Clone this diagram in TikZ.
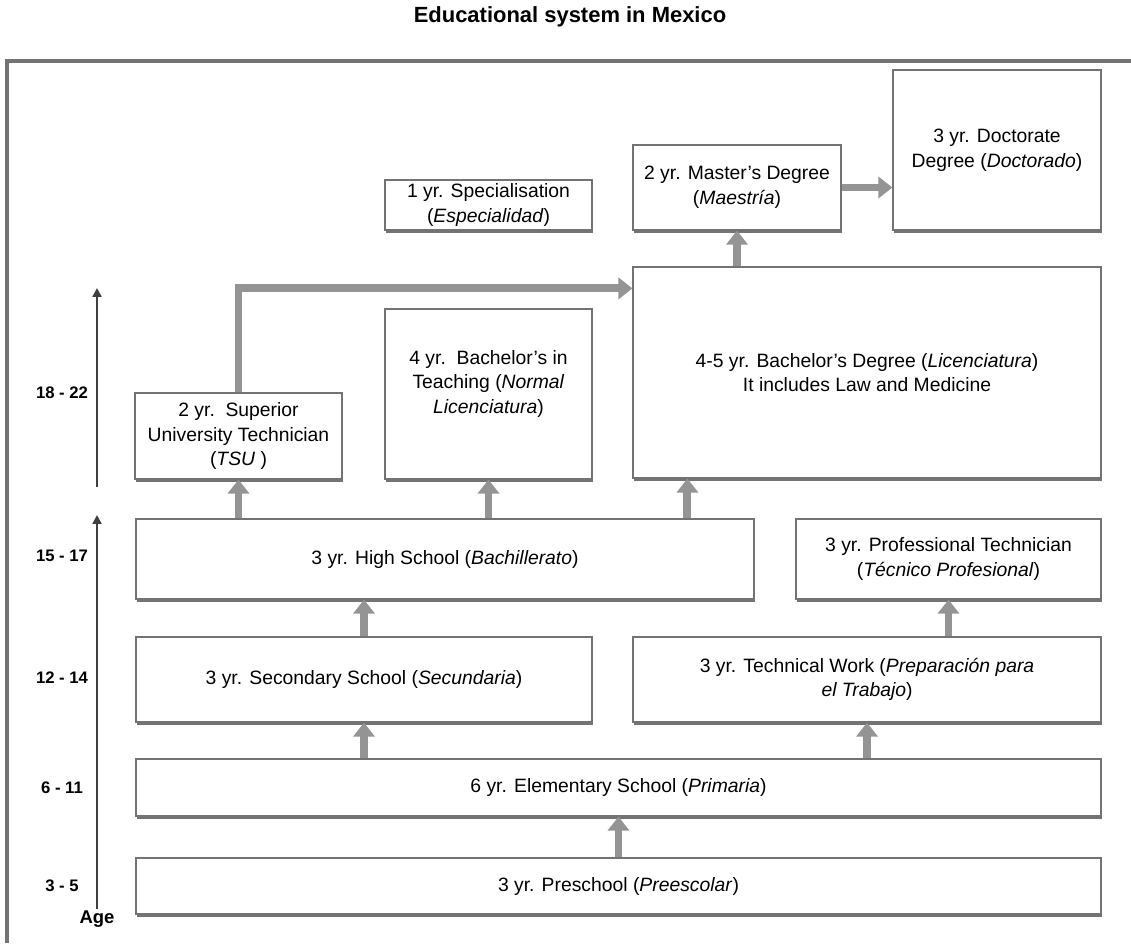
\documentclass[tikz,border=0pt]{standalone}
\usepackage{fontspec}
\setmainfont{Liberation Sans}
\usetikzlibrary{arrows.meta,shadows}

\begin{document}
\begin{tikzpicture}[x=0.02cm, y=-0.02cm,
    every node/.append style={font=\fontsize{11}{14}\selectfont},
    box/.style={draw=black!55, line width=0.7pt, fill=white, align=center, inner sep=2pt,
        drop shadow={shadow xshift=0.7pt, shadow yshift=-1.8pt, fill=black!55, opacity=1}},
    flow/.style={draw=black!42, line width=4.5pt, -{Triangle[width=12pt, length=8pt]}},
    agelbl/.style={font=\bfseries\fontsize{9.5}{11}\selectfont},
    ageaxis/.style={draw=black!75, line width=1.3pt, -{Triangle[width=5pt, length=5pt]}}]
            \useasboundingbox (0,0) rectangle (1131,943);

            \node[font=\bfseries\fontsize{12.5}{15}\selectfont] (title) at (570,17) {Educational system in Mexico};
            \draw[black!55, line width=2pt] (1131,61) -- (7,61) -- (7,943);

            % age scale
            \node[font=\bfseries\fontsize{10.5}{12}\selectfont, inner sep=1pt] (age) at (97,919) {Age};
            \coordinate (axmid) at (97,515);
            \coordinate (axlow) at (97,487);
            \coordinate (axtop) at (97,288);
            \draw[ageaxis] (age.north) -- (axmid);
            \draw[ageaxis] (axlow) -- (axtop);

            \node[agelbl] (a35) at (62,886) {3 - 5};
            \node[agelbl] (a611) at (62,788) {6 - 11};
            \node[agelbl] (a1214) at (62,678) {12 - 14};
            \node[agelbl] (a1517) at (62,556) {15 - 17};
            \node[agelbl] (a1822) at (62,393) {18 - 22};

            % basic levels
            \node[box, minimum width=19.3cm, minimum height=1.12cm] (pre) at (618.5,886) {3 yr. Preschool (\textit{Preescolar})};
            \node[box, minimum width=19.3cm, minimum height=1.14cm] (elem) at (618.5,787.5) {6 yr. Elementary School (\textit{Primaria})};
            \node[box, minimum width=9.12cm, minimum height=1.7cm] (sec) at (364,679.5) {3 yr. Secondary School (\textit{Secundaria})};
            \node[box, minimum width=9.36cm, minimum height=1.7cm] (tw) at (867,679.5) {3 yr. Technical Work (\textit{Preparación para}\\\textit{el Trabajo})};
            \node[box, minimum width=12.36cm, minimum height=1.6cm] (hs) at (445,559) {3 yr. High School (\textit{Bachillerato})};
            \node[box, minimum width=6.1cm, minimum height=1.6cm] (pt) at (948.5,559) {3 yr. Professional Technician\\(\textit{Técnico Profesional})};

            % higher levels
            \node[box, minimum width=4.14cm, minimum height=1.72cm] (tsu) at (238.5,436) {2 yr.\ \ Superior\\University Technician\\(\textit{TSU} )};
            \node[box, minimum width=4.14cm, minimum height=3.4cm] (bt) at (488.5,394) {4 yr.\ \ Bachelor’s in\\Teaching (\textit{Normal}\\\textit{Licenciatura})\\~};
            \node[box, minimum width=9.36cm, minimum height=4.22cm] (lic) at (867,372.5) {4-5 yr. Bachelor’s Degree (\textit{Licenciatura})\\It includes Law and Medicine};
            \node[box, minimum width=4.14cm, minimum height=1cm] (spec) at (488.5,205) {1 yr. Specialisation\\(\textit{Especialidad})};
            \node[box, minimum width=4.16cm, minimum height=1.7cm] (mas) at (737,187.5) {2 yr. Master’s Degree\\(\textit{Maestría})};
            \node[box, minimum width=4.16cm, minimum height=3.2cm] (doc) at (997,150) {3 yr. Doctorate\\Degree (\textit{Doctorado})};

            % routes
            \draw[flow] (pre.north) -- (elem.south);
            \draw[flow] (sec.south |- elem.north) -- (sec.south);
            \draw[flow] (tw.south |- elem.north) -- (tw.south);
            \draw[flow] (sec.north) -- (sec.north |- hs.south);
            \draw[flow] (pt.south |- tw.north) -- (pt.south);
            \draw[flow] (tsu.south |- hs.north) -- (tsu.south);
            \draw[flow] (bt.south |- hs.north) -- (bt.south);
            \draw[flow] ([xshift=1.1cm]lic.south west |- hs.north) -- ([xshift=1.1cm]lic.south west);
            \draw[flow] (tsu.north) |- ([yshift=-0.44cm]lic.north west);
            \draw[flow] (mas.south |- lic.north) -- (mas.south);
            \draw[flow] (mas.east) -- (doc.west |- mas.east);
        \end{tikzpicture}
\end{document}
